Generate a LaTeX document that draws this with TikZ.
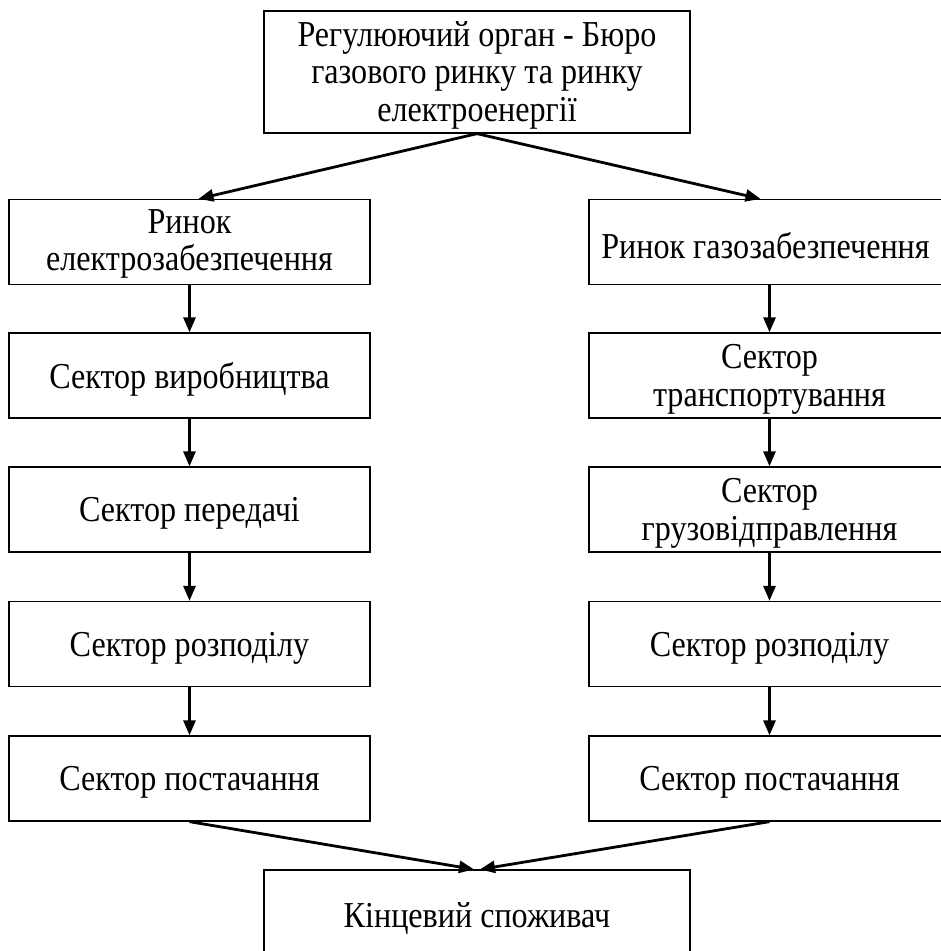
\documentclass[tikz,border=0pt]{standalone}
\usepackage{fontspec}
\setmainfont{Liberation Serif}[FakeStretch=0.88]
\usetikzlibrary{arrows.meta}
\newcommand\myboxfont{\fontsize{36.5}{37.5}\selectfont\setlength{\lineskiplimit}{-100pt}}
\begin{document}
\begin{tikzpicture}[x=1pt,y=1pt,
  box/.style={draw, line width=1.3pt, rectangle, inner sep=0pt,
    minimum width=361, minimum height=85},
  txt/.style={align=center, inner sep=0pt, font=\myboxfont},
  arr/.style={line width=2.8pt, -{Triangle[length=15pt,width=12pt]}}]
\useasboundingbox (0,0) rectangle (941,-951);
% top
\node[box, minimum width=426, minimum height=122] (top) at (477,-72) {};
\node[txt] (topt) at ([yshift=-3pt]top.center)
  {Регулюючий орган - Бюро\\газового ринку та ринку\\електроенергії};
% left column
\node[box] (l1) at (189.5,-242) {};
\node[txt] (l1t) at ([yshift=-2pt]l1.center) {Ринок\\електрозабезпечення};
\node[box] (l2) at (189.5,-375.5) {};
\node[txt] (l2t) at ([yshift=-4pt]l2.center) {Сектор виробництва};
\node[box] (l3) at (189.5,-509.5) {};
\node[txt] (l3t) at ([yshift=-4pt]l3.center) {Сектор передачі};
\node[box] (l4) at (189.5,-644) {};
\node[txt] (l4t) at ([yshift=-4pt]l4.center) {Сектор розподілу};
\node[box] (l5) at (189.5,-778.5) {};
\node[txt] (l5t) at ([yshift=-4pt]l5.center) {Сектор постачання};
% right column
\node[box] (r1) at (769.5,-242) {};
\node[txt] (r1t) at ([xshift=-4pt,yshift=-4pt]r1.center) {Ринок газозабезпечення};
\node[box] (r2) at (769.5,-375.5) {};
\node[txt] (r2t) at ([yshift=-4pt]r2.center) {Сектор\\транспортування};
\node[box] (r3) at (769.5,-509.5) {};
\node[txt] (r3t) at ([yshift=-4pt]r3.center) {Сектор\\грузовідправлення};
\node[box] (r4) at (769.5,-644) {};
\node[txt] (r4t) at ([yshift=-4pt]r4.center) {Сектор розподілу};
\node[box] (r5) at (769.5,-778.5) {};
\node[txt] (r5t) at ([yshift=-4pt]r5.center) {Сектор постачання};
% bottom
\node[box, minimum width=426, minimum height=90] (end) at (477,-915) {};
\node[txt] (endt) at ([yshift=-4pt]end.center) {Кінцевий споживач};
% arrows
\draw[arr] (top.south) -- ([xshift=9pt]l1.north);
\draw[arr] (top.south) -- ([xshift=-9pt]r1.north);
\draw[arr] (l1) -- (l2);
\draw[arr] (l2) -- (l3);
\draw[arr] (l3) -- (l4);
\draw[arr] (l4) -- (l5);
\draw[arr] (r1) -- (r2);
\draw[arr] (r2) -- (r3);
\draw[arr] (r3) -- (r4);
\draw[arr] (r4) -- (r5);
\draw[arr] (l5.south) -- ([xshift=-3pt]end.north);
\draw[arr] (r5.south) -- ([xshift=3pt]end.north);
\end{tikzpicture}
\end{document}
